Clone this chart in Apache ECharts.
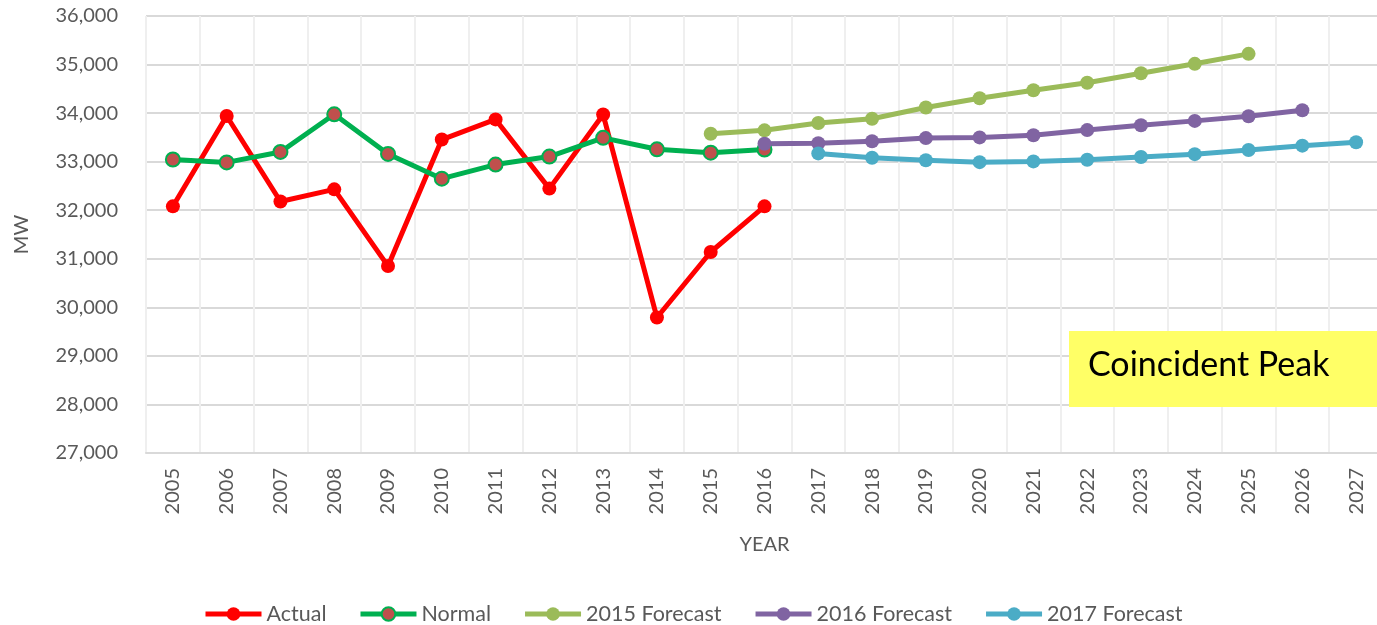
<!DOCTYPE html>
<html>
<head>
<meta charset="utf-8">
<script src="https://cdn.jsdelivr.net/npm/echarts@6/dist/echarts.min.js"></script>
<style>
html,body{margin:0;padding:0;background:#fff;overflow:hidden;}
#chart{width:1390px;height:625px;}
</style>
</head>
<body>
<div id="chart"></div>
<script>
const years = ['2005','2006','2007','2008','2009','2010','2011','2012','2013','2014','2015','2016','2017','2018','2019','2020','2021','2022','2023','2024','2025','2026','2027'];
const actual = [32080,33940,32180,32430,30850,33455,33870,32445,33970,29790,31140,32080,null,null,null,null,null,null,null,null,null,null,null];
const normal = [33045,32985,33200,33975,33160,32650,32940,33105,33490,33255,33185,33250,null,null,null,null,null,null,null,null,null,null,null];
const fc2015 = [null,null,null,null,null,null,null,null,null,null,33575,33645,33795,33885,34115,34305,34470,34625,34820,35015,35220,null,null];
const fc2016 = [null,null,null,null,null,null,null,null,null,null,null,33370,33380,33420,33485,33500,33545,33650,33750,33840,33935,34060,null];
const fc2017 = [null,null,null,null,null,null,null,null,null,null,null,null,33170,33080,33030,32990,33005,33040,33095,33155,33240,33330,33400];
const yTicks = {min:27000, max:36000, interval:1000};

const FONT = 'Lato, "Noto Sans", sans-serif';
const chart = echarts.init(document.getElementById('chart'), null, {renderer:'canvas'});

function lineSeries(name, data, color, opts) {
  return Object.assign({
    name: name,
    type: 'line',
    data: data,
    symbol: 'circle',
    symbolSize: 14,
    connectNulls: false,
    lineStyle: {color: color, width: 5},
    itemStyle: {color: color},
    emphasis: {disabled: true},
    animation: false
  }, opts || {});
}

chart.setOption({
  animation: false,
  grid: {left: 146, right: 7, top: 16, bottom: 172, containLabel: false},
  legend: {
    left: 198, top: 598,
    itemWidth: 56, itemHeight: 17, itemGap: 31.5,
    lineStyle: {width: 5},
    textStyle: {fontFamily: FONT, fontSize: 21.5, color: '#595959'},
    data: ['Actual','Normal','2015 Forecast','2016 Forecast','2017 Forecast']
  },
  xAxis: {
    type: 'category',
    data: years,
    boundaryGap: true,
    name: 'YEAR',
    nameLocation: 'middle',
    nameGap: 82,
    nameTextStyle: {fontFamily: FONT, fontSize: 20, color: '#595959'},
    axisLine: {show: true, lineStyle: {color: '#D9D9D9', width: 2}},
    axisTick: {show: false},
    axisLabel: {rotate: 90, margin: 15, fontFamily: FONT, fontSize: 20, color: '#595959', interval: 0},
    splitLine: {show: true, interval: 0, lineStyle: {color: '#EFEFEF', width: 2}}
  },
  yAxis: {
    type: 'value',
    min: yTicks.min, max: yTicks.max, interval: yTicks.interval,
    name: 'MW',
    nameLocation: 'middle',
    nameRotate: 90,
    nameGap: 114,
    nameTextStyle: {fontFamily: FONT, fontSize: 20, color: '#595959'},
    axisLine: {show: false},
    axisTick: {show: false},
    axisLabel: {margin: 28, fontFamily: FONT, fontSize: 20, color: '#595959',
      formatter: v => v.toLocaleString('en-US')},
    splitLine: {show: true, lineStyle: {color: '#D9D9D9', width: 2}}
  },
  series: [
    lineSeries('Actual', actual, '#FF0000'),
    lineSeries('Normal', normal, '#00B050', {itemStyle: {color: '#C0504D', borderColor: '#00B050', borderWidth: 2}}),
    lineSeries('2015 Forecast', fc2015, '#9BBB59'),
    lineSeries('2016 Forecast', fc2016, '#8064A2'),
    lineSeries('2017 Forecast', fc2017, '#4BACC6')
  ],
  graphic: [
    {type: 'rect', left: 1069, top: 331, shape: {width: 330, height: 76}, style: {fill: '#FFFF66'}, z: 100},
    {type: 'text', left: 1088, top: 348, style: {text: 'Coincident Peak', fontFamily: FONT, fontSize: 34, fill: '#000000'}, z: 101}
  ]
});
</script>
</body>
</html>
